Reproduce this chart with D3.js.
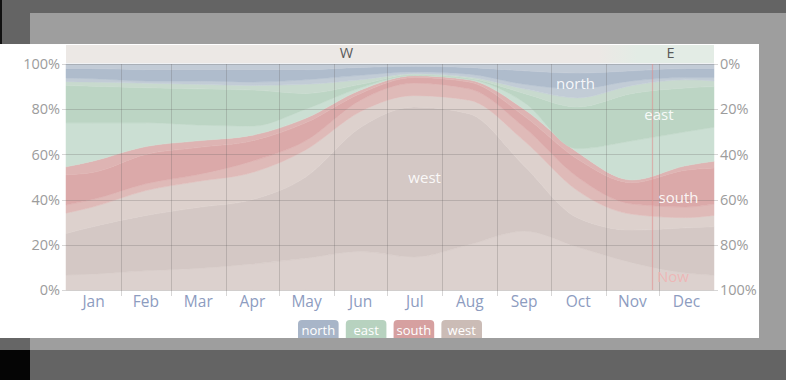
<!DOCTYPE html>
<html><head><meta charset="utf-8">
<script src="https://cdn.jsdelivr.net/npm/d3@7"></script>
<style>
html,body{margin:0;padding:0;background:#666;}
svg{display:block;font-family:"Open Sans",sans-serif;}
</style></head>
<body>
<svg id="c" width="786" height="380"></svg>
<script>
// ---- data ----
const days = [0, 15, 45, 74, 105, 135, 166, 196, 227, 258, 288, 319, 349, 365];
// percentage of hours per direction band, bottom to top
const nwLow  = [6.6, 7, 8.5, 9.5, 11.5, 14, 17, 14.6, 20, 26, 19, 12, 7.5, 6.5];
const west   = [18.4, 21, 24.5, 27, 28.5, 36, 55, 66.4, 58, 29, 13, 14.5, 20, 21.5];
const swWest = [9, 8.7, 11, 11.5, 12, 12, 7, 5, 6, 11, 12, 7, 4.5, 5];
const swSouth= [3.6, 3.3, 3, 3, 5, 4, 5, 5.5, 5, 6, 6, 4.5, 4.7, 5];
const south  = [13.4, 12, 13, 12, 9, 8, 3, 2.5, 3, 5, 8, 9.5, 16.3, 16];
const seSouth= [3.5, 5, 3.5, 3, 2.5, 2, 1.5, 0.8, 1, 3, 3, 1.2, 2, 3];
const seEast = [19.5, 17, 10.5, 7, 4, 4, 1, 0.2, 0.3, 3, 1.5, 17.3, 15, 15];
const east   = [16.5, 16.2, 15.5, 16, 16, 7, 1.5, 0.3, 0.4, 4, 18.5, 21, 19.4, 18];
const neEast = [1.7, 1.8, 2, 2, 2, 4, 2, 0.4, 0.6, 2, 4, 3.5, 3.6, 2.5];
const neNorth= [1.6, 1.5, 1, 1.5, 1.5, 2, 2, 0.8, 1.2, 2, 4, 2, 1, 1.5];
const north  = [4.2, 4.5, 5, 5, 5.5, 4.5, 3.5, 2.5, 3, 6, 7, 4.5, 4, 4];
const nwHigh = [2, 2, 2.5, 2.5, 2.5, 2.5, 1.5, 1, 1.5, 3, 4, 3, 2, 2];

const months = ["Jan","Feb","Mar","Apr","May","Jun","Jul","Aug","Sep","Oct","Nov","Dec"];
const monthStarts = [0,31,59,90,120,151,181,212,243,273,304,334,365];
const pctTicks = [0,20,40,60,80,100];
const dominant = [{label:"W", start:0, end:316}, {label:"E", start:316, end:365}];
const nowDay = 330;
const legendItems = ["north","east","south","west"];

// ---- layout ----
const svg = d3.select("#c");
// background frame
svg.append("rect").attr("x",0).attr("y",0).attr("width",786).attr("height",380).attr("fill","#646464");
svg.append("rect").attr("x",0).attr("y",0).attr("width",2).attr("height",44).attr("fill","#111");
svg.append("rect").attr("x",0).attr("y",350).attr("width",30).attr("height",30).attr("fill","#050505");
svg.append("rect").attr("x",30).attr("y",13).attr("width",756).attr("height",337).attr("fill","#9e9e9e");
svg.append("rect").attr("x",0).attr("y",338).attr("width",30).attr("height",12).attr("fill","#666");
svg.append("rect").attr("x",0).attr("y",44).attr("width",759).attr("height",294).attr("fill","#ffffff");

const x = d3.scaleLinear().domain([0,365]).range([66,714]);
const y = d3.scaleLinear().domain([0,100]).range([290,64]);
const yR = d3.scaleLinear().domain([0,100]).range([64,290]);

// top dominant band
const defs = svg.append("defs");
const grad = defs.append("linearGradient").attr("id","domg").attr("x1","0").attr("x2","1");
const colW = "#ece8e5", colE = "#e3ece5";
const t0 = (x(300)-x(0))/(x(365)-x(0)), t1 = (x(322)-x(0))/(x(365)-x(0));
grad.append("stop").attr("offset",0).attr("stop-color",colW);
grad.append("stop").attr("offset",t0).attr("stop-color",colW);
grad.append("stop").attr("offset",t1).attr("stop-color",colE);
grad.append("stop").attr("offset",1).attr("stop-color",colE);
svg.append("rect").attr("x",x(0)).attr("y",45).attr("width",x(365)-x(0)).attr("height",18).attr("fill","url(#domg)");
svg.selectAll(".dom").data(dominant).join("text")
  .attr("x",d=>x((d.start+d.end)/2)).attr("y",58).attr("text-anchor","middle")
  .attr("font-size",14.5).attr("fill","#5a5a5a").text(d=>d.label);

// stacked areas
const keys = ["nwLow","west","swWest","swSouth","south","seSouth","seEast","east","neEast","neNorth","north","nwHigh"];
const series = {nwLow,west,swWest,swSouth,south,seSouth,seEast,east,neEast,neNorth,north,nwHigh};
const colors = {
  nwLow:"#dcd1ce", west:"#d4c8c5", swWest:"#ddd1cd", swSouth:"#dfbab8", south:"#dba9a9", seSouth:"#deb4b3",
  seEast:"#cbdfd3", east:"#bcd5c4", neEast:"#c8dace", neNorth:"#c2ccd6", north:"#afbccc", nwHigh:"#c2cbd6"
};
const rows = days.map((d,i)=>{const r={day:d}; keys.forEach(k=>r[k]=series[k][i]); return r;});
const stacked = d3.stack().keys(keys)(rows);
const area = d3.area().curve(d3.curveMonotoneX)
  .x(d=>x(d.data.day)).y0(d=>y(d[0])).y1(d=>y(d[1]));
svg.append("g").selectAll("path").data(stacked).join("path")
  .attr("d",area).attr("fill",d=>colors[d.key]).attr("stroke",d=>colors[d.key]).attr("stroke-width",0.5);

// gridlines
const grid = svg.append("g").attr("stroke","rgba(100,95,95,0.26)").attr("stroke-width",1);
pctTicks.forEach(p=>{
  grid.append("line").attr("x1",62).attr("x2",718).attr("y1",Math.round(y(p))+0.5).attr("y2",Math.round(y(p))+0.5);
});
monthStarts.slice(1,-1).forEach(d=>{
  grid.append("line").attr("x1",Math.round(x(d))+0.5).attr("x2",Math.round(x(d))+0.5).attr("y1",64).attr("y2",296);
});

// now line
svg.append("line").attr("x1",Math.round(x(nowDay))+0.5).attr("x2",Math.round(x(nowDay))+0.5)
  .attr("y1",64).attr("y2",290).attr("stroke","rgba(225,140,140,0.55)").attr("stroke-width",1.2);
svg.append("text").attr("x",x(nowDay)+21).attr("y",282).attr("text-anchor","middle")
  .attr("font-size",15).attr("fill","rgba(240,178,178,0.85)").text("Now");

// axes
const left = svg.append("g").attr("transform","translate(66,0)")
  .call(d3.axisLeft(y).tickValues(pctTicks).tickFormat(d=>d+"%").tickSize(0).tickPadding(6));
const right = svg.append("g").attr("transform","translate(714,0)")
  .call(d3.axisRight(yR).tickValues(pctTicks).tickFormat(d=>d+"%").tickSize(0).tickPadding(6));
[left,right].forEach(g=>{
  g.select(".domain").remove();
  g.selectAll("text").attr("font-size",14.5).attr("fill","#9c9c9c").attr("font-family","Open Sans, sans-serif");
});
const mScale = d3.scaleOrdinal().domain(months).range(months.map((m,i)=>x((monthStarts[i]+monthStarts[i+1])/2)));
const bottom = svg.append("g").attr("transform","translate(0,290)")
  .call(d3.axisBottom(d3.scalePoint().domain(months).range([0,1])).tickSize(0));
bottom.select(".domain").remove();
bottom.selectAll(".tick").attr("transform",d=>`translate(${mScale(d)},0)`);
bottom.selectAll("text").attr("dy",null).attr("y",17).attr("font-size",15.5).attr("fill","#8d9cbf")
  .attr("font-family","Open Sans, sans-serif");

// in-chart labels
const inLabels = [
  {t:"north", d:287, v:91}, {t:"east", d:334, v:77.5}, {t:"south", d:345, v:40.7}, {t:"west", d:202, v:49.7}
];
svg.selectAll(".il").data(inLabels).join("text")
  .attr("x",d=>x(d.d)).attr("y",d=>y(d.v)+5).attr("text-anchor","middle")
  .attr("font-size",15).attr("fill","rgba(255,255,255,0.9)").text(d=>d.t);

// legend
const legColors = {north:"#a8b5c8", east:"#b7d2bf", south:"#d6a0a0", west:"#cbbcb6"};
const lg = svg.append("g");
const lx = d3.scaleBand().domain(legendItems).range([298,482]).paddingInner(0.15);
legendItems.forEach(k=>{
  lg.append("rect").attr("x",lx(k)).attr("y",320).attr("width",lx.bandwidth()).attr("height",24)
    .attr("rx",4).attr("fill",legColors[k]);
  lg.append("text").attr("x",lx(k)+lx.bandwidth()/2).attr("y",335).attr("text-anchor","middle")
    .attr("font-size",13).attr("fill","#fff").text(k);
});
// panel bottom edge covers legend chip bottoms
svg.append("rect").attr("x",0).attr("y",338).attr("width",30).attr("height",12).attr("fill","#666");
svg.append("rect").attr("x",30).attr("y",338).attr("width",756).attr("height",12).attr("fill","#9e9e9e");
</script>
</body></html>
